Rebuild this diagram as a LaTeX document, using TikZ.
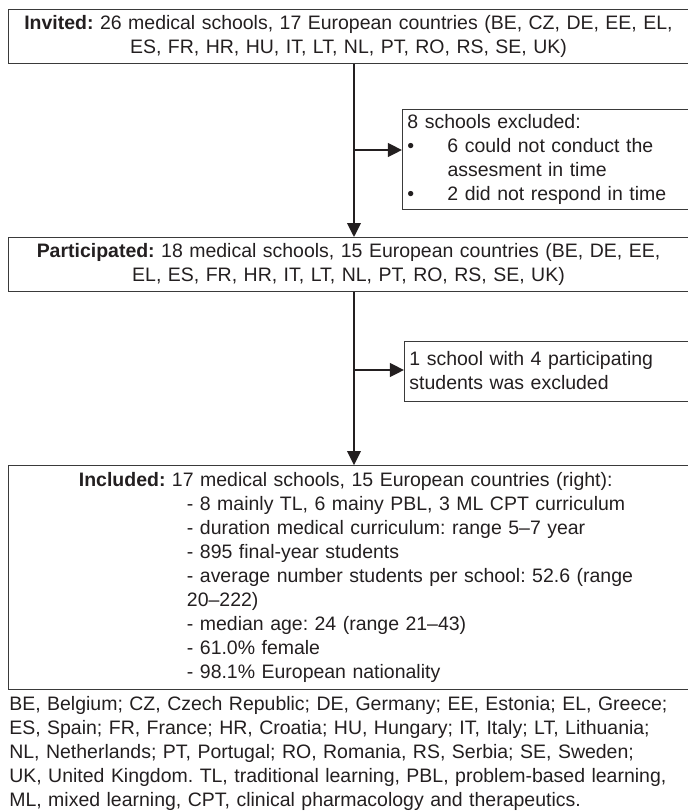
\documentclass[tikz,border=0pt]{standalone}
\usepackage{fontspec}
\setmainfont{Liberation Sans}
\usepackage{tikz}
\usetikzlibrary{arrows.meta, positioning}
\definecolor{flowink}{HTML}{231F20}
\definecolor{flowline}{HTML}{3A3A3A}
\newcommand{\indnt}{\hspace*{4.4cm}}
\newcommand{\bul}{\makebox[1cm][l]{\textbullet}}
\frenchspacing

\begin{document}
\begin{tikzpicture}[
  x=0.025cm, y=-0.025cm,
  node distance=4.325cm,
  every node/.style={text=flowink, font=\fontsize{13.85pt}{17.07pt}\selectfont},
  stage/.style={rectangle, draw=flowline, line width=0.7pt, inner xsep=0.05cm, inner ysep=0.1cm,
               minimum width=16.975cm, text width=16.875cm, align=center},
  excl/.style={rectangle, draw=flowline, line width=0.7pt, inner xsep=0.125cm, inner ysep=0.05cm,
               text width=6.9cm, align=left},
  arr/.style={-{Triangle[length=0.35cm, width=0.34cm]}, line width=1.4pt, flowink}]
\useasboundingbox (0,0) rectangle (688,812);
\node[stage, anchor=north, minimum height=1.35cm] (inv) at (348.5,9)
  {\textbf{Invited:} 26 medical schools, 17 European countries (BE, CZ, DE, EE, EL,\\
   ES, FR, HR, HU, IT, LT, NL, PT, RO, RS, SE, UK)};
\node[stage, below=of inv, minimum height=1.35cm] (part)
  {\textbf{Participated:} 18 medical schools, 15 European countries (BE, DE, EE,\\
   EL, ES, FR, HR, IT, LT, NL, PT, RO, RS, SE, UK)};
\node[stage, below=of part, minimum height=5.6cm, align=left] (incl)
  {\hspace*{1.7cm}\textbf{Included:} 17 medical schools, 15 European countries (right):\\
   \indnt- 8 mainly TL, 6 mainy PBL, 3 ML CPT curriculum\\
   \indnt- duration medical curriculum: range 5--7 year\\
   \indnt- 895 final-year students\\
   \indnt- average number students per school: 52.6 (range\\
   \indnt20--222)\\
   \indnt- median age: 24 (range 21--43)\\
   \indnt- 61.0\% female\\
   \indnt- 98.1\% European nationality};
\node[excl, anchor=west, minimum height=2.5cm] (exc1) at (402,159)
  {8 schools excluded:\\
   \bul 6 could not conduct the\\
   \hspace*{1cm}assesment in time\\
   \bul 2 did not respond in time};
\node[excl, anchor=west, minimum height=1.5cm, text width=6.85cm] (exc2) at (404,371)
  {1 school with 4 participating\\
   students was excluded};
\node[anchor=north west, inner sep=0pt, text width=16.975cm, align=left] (abbr) at (9,696.5)
  {BE, Belgium; CZ, Czech Republic; DE, Germany; EE, Estonia; EL, Greece;\\
   ES, Spain; FR, France; HR, Croatia; HU, Hungary; IT, Italy; LT, Lithuania;\\
   NL, Netherlands; PT, Portugal; RO, Romania, RS, Serbia; SE, Sweden;\\
   UK, United Kingdom. TL, traditional learning, PBL, problem-based learning,\\
   ML, mixed learning, CPT, clinical pharmacology and therapeutics.};
\coordinate (j1) at (354,150);
\coordinate (j2) at (354,370);
\draw[arr] (inv.south -| j1) -- (part.north -| j1);
\draw[arr] (part.south -| j1) -- (incl.north -| j1);
\draw[arr] (j1) -- (j1 -| exc1.west);
\draw[arr] (j2) -- (j2 -| exc2.west);
\end{tikzpicture}
\end{document}
